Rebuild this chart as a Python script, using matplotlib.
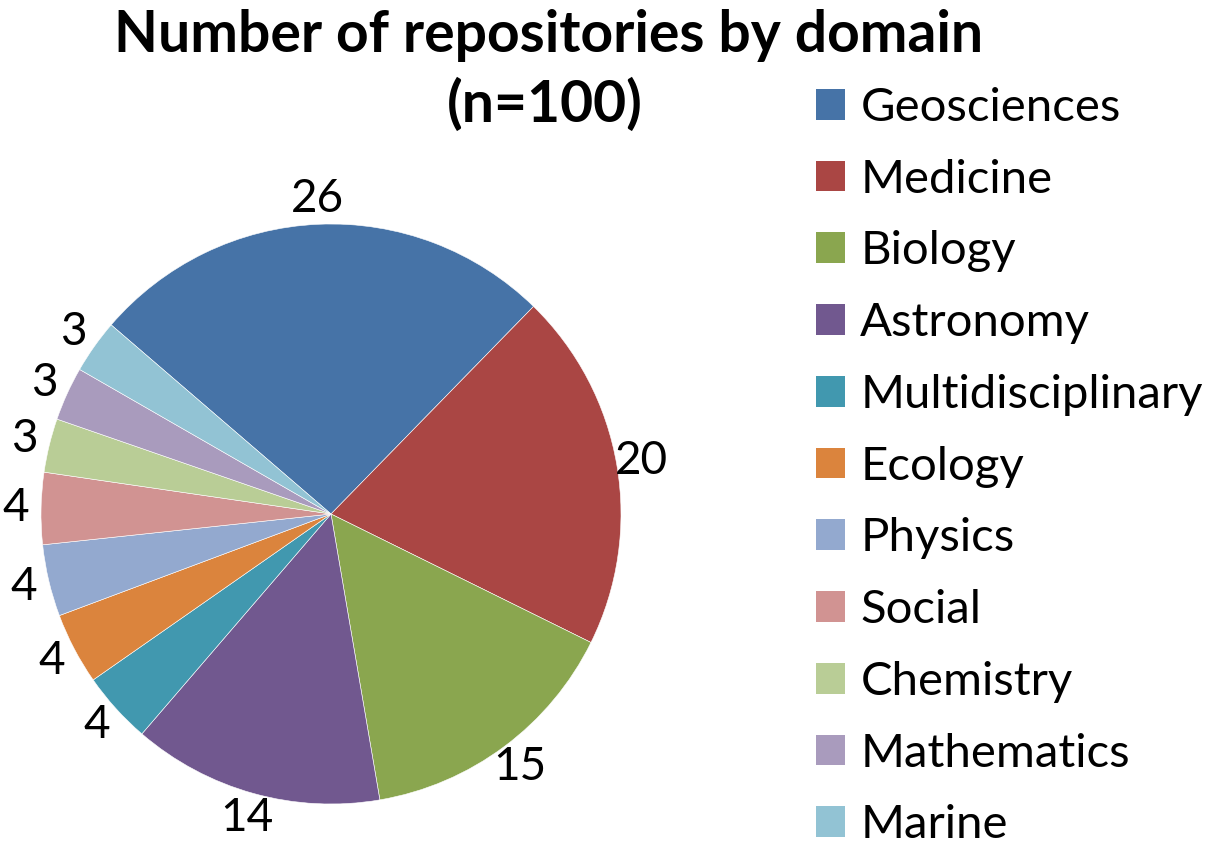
import matplotlib
matplotlib.use("Agg")
import matplotlib.pyplot as plt
from matplotlib.patches import Patch

categories = ["Geosciences", "Medicine", "Biology", "Astronomy", "Multidisciplinary",
              "Ecology", "Physics", "Social", "Chemistry", "Mathematics", "Marine"]
values = [26, 20, 15, 14, 4, 4, 4, 4, 3, 3, 3]
colors = ["#4673A7", "#AA4644", "#8AA64F", "#71588F", "#4198AF", "#DB843D",
          "#93A9CF", "#D19392", "#B9CD96", "#A99BBD", "#92C3D4"]
title_lines = ["Number of repositories by domain", "(n=100)"]

plt.rcParams['font.family'] = ['Lato', 'DejaVu Sans']

fig = plt.figure(figsize=(12.19, 8.46), dpi=100)
W, H = 1219, 846
cx, cy, r = 331, 514, 290
ax = fig.add_axes([(cx - r) / W, (H - cy - r) / H, 2 * r / W, 2 * r / H])

wedges, texts = ax.pie(values, labels=[str(v) for v in values], colors=colors,
                       startangle=139.3, counterclock=False, labeldistance=1.087,
                       wedgeprops=dict(edgecolor="white", linewidth=0.4),
                       textprops=dict(fontsize=33, color="black"))
for t in texts:
    t.set_ha("center")
    t.set_va("center")
ax.set_xlim(-1, 1)
ax.set_ylim(-1, 1)
ax.set_aspect("equal")
ax.axis("off")

fig.text(549 / W, 1 - 52 / H, title_lines[0], ha="center", va="baseline",
         fontsize=41, fontweight="bold")
fig.text(545 / W, 1 - 122 / H, title_lines[1], ha="center", va="baseline",
         fontsize=41, fontweight="bold")

handles = [Patch(facecolor=c, edgecolor="none") for c in colors]
leg = fig.legend(handles, categories, loc="upper left",
                 bbox_to_anchor=(797 / W, 1 - 68 / H), frameon=False,
                 fontsize=34, handlelength=0.62, handleheight=0.62,
                 handletextpad=0.32, labelspacing=0.63, borderaxespad=0)

fig.savefig("out.png", dpi=100)
